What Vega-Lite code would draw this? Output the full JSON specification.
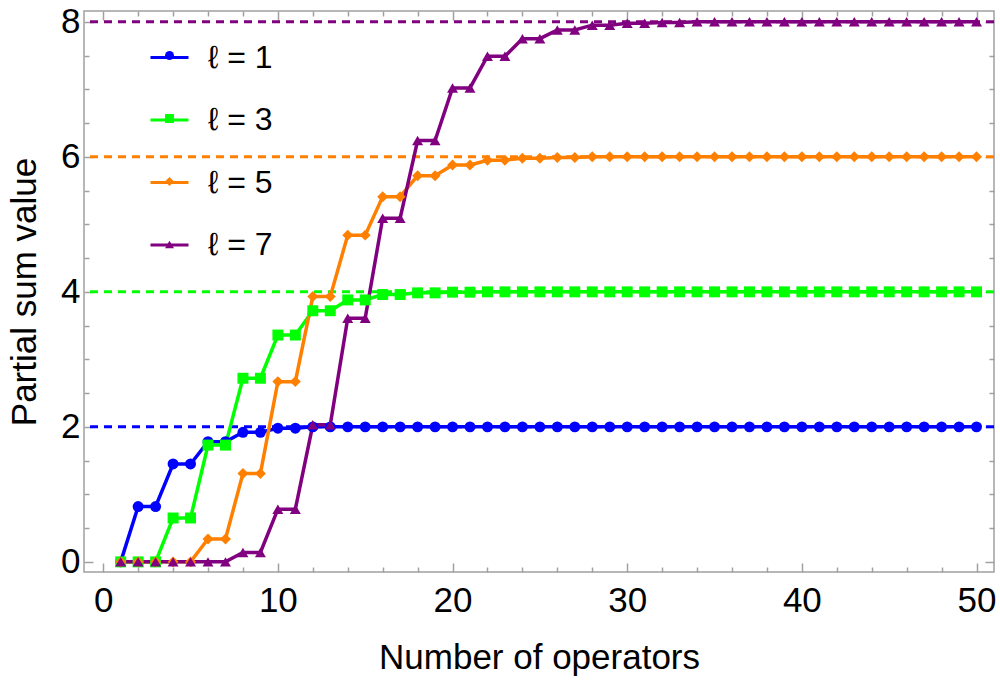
{
  "$schema": "https://vega.github.io/schema/vega-lite/v6.json",
  "width": 910,
  "height": 561,
  "autosize": "none",
  "padding": {"left": 84, "top": 11, "right": 6, "bottom": 112},
  "data": {
    "values": [
      {"operators": 1, "series": "ℓ = 1", "value": 0},
      {"operators": 2, "series": "ℓ = 1", "value": 0.82},
      {"operators": 3, "series": "ℓ = 1", "value": 0.82},
      {"operators": 4, "series": "ℓ = 1", "value": 1.45},
      {"operators": 5, "series": "ℓ = 1", "value": 1.45},
      {"operators": 6, "series": "ℓ = 1", "value": 1.78},
      {"operators": 7, "series": "ℓ = 1", "value": 1.78},
      {"operators": 8, "series": "ℓ = 1", "value": 1.92},
      {"operators": 9, "series": "ℓ = 1", "value": 1.92},
      {"operators": 10, "series": "ℓ = 1", "value": 1.98},
      {"operators": 11, "series": "ℓ = 1", "value": 1.98},
      {"operators": 12, "series": "ℓ = 1", "value": 2},
      {"operators": 13, "series": "ℓ = 1", "value": 2},
      {"operators": 14, "series": "ℓ = 1", "value": 2},
      {"operators": 15, "series": "ℓ = 1", "value": 2},
      {"operators": 16, "series": "ℓ = 1", "value": 2},
      {"operators": 17, "series": "ℓ = 1", "value": 2},
      {"operators": 18, "series": "ℓ = 1", "value": 2},
      {"operators": 19, "series": "ℓ = 1", "value": 2},
      {"operators": 20, "series": "ℓ = 1", "value": 2},
      {"operators": 21, "series": "ℓ = 1", "value": 2},
      {"operators": 22, "series": "ℓ = 1", "value": 2},
      {"operators": 23, "series": "ℓ = 1", "value": 2},
      {"operators": 24, "series": "ℓ = 1", "value": 2},
      {"operators": 25, "series": "ℓ = 1", "value": 2},
      {"operators": 26, "series": "ℓ = 1", "value": 2},
      {"operators": 27, "series": "ℓ = 1", "value": 2},
      {"operators": 28, "series": "ℓ = 1", "value": 2},
      {"operators": 29, "series": "ℓ = 1", "value": 2},
      {"operators": 30, "series": "ℓ = 1", "value": 2},
      {"operators": 31, "series": "ℓ = 1", "value": 2},
      {"operators": 32, "series": "ℓ = 1", "value": 2},
      {"operators": 33, "series": "ℓ = 1", "value": 2},
      {"operators": 34, "series": "ℓ = 1", "value": 2},
      {"operators": 35, "series": "ℓ = 1", "value": 2},
      {"operators": 36, "series": "ℓ = 1", "value": 2},
      {"operators": 37, "series": "ℓ = 1", "value": 2},
      {"operators": 38, "series": "ℓ = 1", "value": 2},
      {"operators": 39, "series": "ℓ = 1", "value": 2},
      {"operators": 40, "series": "ℓ = 1", "value": 2},
      {"operators": 41, "series": "ℓ = 1", "value": 2},
      {"operators": 42, "series": "ℓ = 1", "value": 2},
      {"operators": 43, "series": "ℓ = 1", "value": 2},
      {"operators": 44, "series": "ℓ = 1", "value": 2},
      {"operators": 45, "series": "ℓ = 1", "value": 2},
      {"operators": 46, "series": "ℓ = 1", "value": 2},
      {"operators": 47, "series": "ℓ = 1", "value": 2},
      {"operators": 48, "series": "ℓ = 1", "value": 2},
      {"operators": 49, "series": "ℓ = 1", "value": 2},
      {"operators": 50, "series": "ℓ = 1", "value": 2},
      {"operators": 1, "series": "ℓ = 3", "value": 0},
      {"operators": 2, "series": "ℓ = 3", "value": 0},
      {"operators": 3, "series": "ℓ = 3", "value": 0},
      {"operators": 4, "series": "ℓ = 3", "value": 0.65},
      {"operators": 5, "series": "ℓ = 3", "value": 0.65},
      {"operators": 6, "series": "ℓ = 3", "value": 1.73},
      {"operators": 7, "series": "ℓ = 3", "value": 1.73},
      {"operators": 8, "series": "ℓ = 3", "value": 2.72},
      {"operators": 9, "series": "ℓ = 3", "value": 2.72},
      {"operators": 10, "series": "ℓ = 3", "value": 3.36},
      {"operators": 11, "series": "ℓ = 3", "value": 3.36},
      {"operators": 12, "series": "ℓ = 3", "value": 3.72},
      {"operators": 13, "series": "ℓ = 3", "value": 3.72},
      {"operators": 14, "series": "ℓ = 3", "value": 3.88},
      {"operators": 15, "series": "ℓ = 3", "value": 3.88},
      {"operators": 16, "series": "ℓ = 3", "value": 3.96},
      {"operators": 17, "series": "ℓ = 3", "value": 3.96},
      {"operators": 18, "series": "ℓ = 3", "value": 3.985},
      {"operators": 19, "series": "ℓ = 3", "value": 3.985},
      {"operators": 20, "series": "ℓ = 3", "value": 3.995},
      {"operators": 21, "series": "ℓ = 3", "value": 3.995},
      {"operators": 22, "series": "ℓ = 3", "value": 4},
      {"operators": 23, "series": "ℓ = 3", "value": 4},
      {"operators": 24, "series": "ℓ = 3", "value": 4},
      {"operators": 25, "series": "ℓ = 3", "value": 4},
      {"operators": 26, "series": "ℓ = 3", "value": 4},
      {"operators": 27, "series": "ℓ = 3", "value": 4},
      {"operators": 28, "series": "ℓ = 3", "value": 4},
      {"operators": 29, "series": "ℓ = 3", "value": 4},
      {"operators": 30, "series": "ℓ = 3", "value": 4},
      {"operators": 31, "series": "ℓ = 3", "value": 4},
      {"operators": 32, "series": "ℓ = 3", "value": 4},
      {"operators": 33, "series": "ℓ = 3", "value": 4},
      {"operators": 34, "series": "ℓ = 3", "value": 4},
      {"operators": 35, "series": "ℓ = 3", "value": 4},
      {"operators": 36, "series": "ℓ = 3", "value": 4},
      {"operators": 37, "series": "ℓ = 3", "value": 4},
      {"operators": 38, "series": "ℓ = 3", "value": 4},
      {"operators": 39, "series": "ℓ = 3", "value": 4},
      {"operators": 40, "series": "ℓ = 3", "value": 4},
      {"operators": 41, "series": "ℓ = 3", "value": 4},
      {"operators": 42, "series": "ℓ = 3", "value": 4},
      {"operators": 43, "series": "ℓ = 3", "value": 4},
      {"operators": 44, "series": "ℓ = 3", "value": 4},
      {"operators": 45, "series": "ℓ = 3", "value": 4},
      {"operators": 46, "series": "ℓ = 3", "value": 4},
      {"operators": 47, "series": "ℓ = 3", "value": 4},
      {"operators": 48, "series": "ℓ = 3", "value": 4},
      {"operators": 49, "series": "ℓ = 3", "value": 4},
      {"operators": 50, "series": "ℓ = 3", "value": 4},
      {"operators": 1, "series": "ℓ = 5", "value": 0},
      {"operators": 2, "series": "ℓ = 5", "value": 0},
      {"operators": 3, "series": "ℓ = 5", "value": 0},
      {"operators": 4, "series": "ℓ = 5", "value": 0},
      {"operators": 5, "series": "ℓ = 5", "value": 0},
      {"operators": 6, "series": "ℓ = 5", "value": 0.34},
      {"operators": 7, "series": "ℓ = 5", "value": 0.34},
      {"operators": 8, "series": "ℓ = 5", "value": 1.31},
      {"operators": 9, "series": "ℓ = 5", "value": 1.31},
      {"operators": 10, "series": "ℓ = 5", "value": 2.67},
      {"operators": 11, "series": "ℓ = 5", "value": 2.67},
      {"operators": 12, "series": "ℓ = 5", "value": 3.93},
      {"operators": 13, "series": "ℓ = 5", "value": 3.93},
      {"operators": 14, "series": "ℓ = 5", "value": 4.84},
      {"operators": 15, "series": "ℓ = 5", "value": 4.84},
      {"operators": 16, "series": "ℓ = 5", "value": 5.41},
      {"operators": 17, "series": "ℓ = 5", "value": 5.41},
      {"operators": 18, "series": "ℓ = 5", "value": 5.72},
      {"operators": 19, "series": "ℓ = 5", "value": 5.72},
      {"operators": 20, "series": "ℓ = 5", "value": 5.88},
      {"operators": 21, "series": "ℓ = 5", "value": 5.88},
      {"operators": 22, "series": "ℓ = 5", "value": 5.95},
      {"operators": 23, "series": "ℓ = 5", "value": 5.95},
      {"operators": 24, "series": "ℓ = 5", "value": 5.98},
      {"operators": 25, "series": "ℓ = 5", "value": 5.98},
      {"operators": 26, "series": "ℓ = 5", "value": 5.99},
      {"operators": 27, "series": "ℓ = 5", "value": 5.99},
      {"operators": 28, "series": "ℓ = 5", "value": 6},
      {"operators": 29, "series": "ℓ = 5", "value": 6},
      {"operators": 30, "series": "ℓ = 5", "value": 6},
      {"operators": 31, "series": "ℓ = 5", "value": 6},
      {"operators": 32, "series": "ℓ = 5", "value": 6},
      {"operators": 33, "series": "ℓ = 5", "value": 6},
      {"operators": 34, "series": "ℓ = 5", "value": 6},
      {"operators": 35, "series": "ℓ = 5", "value": 6},
      {"operators": 36, "series": "ℓ = 5", "value": 6},
      {"operators": 37, "series": "ℓ = 5", "value": 6},
      {"operators": 38, "series": "ℓ = 5", "value": 6},
      {"operators": 39, "series": "ℓ = 5", "value": 6},
      {"operators": 40, "series": "ℓ = 5", "value": 6},
      {"operators": 41, "series": "ℓ = 5", "value": 6},
      {"operators": 42, "series": "ℓ = 5", "value": 6},
      {"operators": 43, "series": "ℓ = 5", "value": 6},
      {"operators": 44, "series": "ℓ = 5", "value": 6},
      {"operators": 45, "series": "ℓ = 5", "value": 6},
      {"operators": 46, "series": "ℓ = 5", "value": 6},
      {"operators": 47, "series": "ℓ = 5", "value": 6},
      {"operators": 48, "series": "ℓ = 5", "value": 6},
      {"operators": 49, "series": "ℓ = 5", "value": 6},
      {"operators": 50, "series": "ℓ = 5", "value": 6},
      {"operators": 1, "series": "ℓ = 7", "value": 0},
      {"operators": 2, "series": "ℓ = 7", "value": 0},
      {"operators": 3, "series": "ℓ = 7", "value": 0},
      {"operators": 4, "series": "ℓ = 7", "value": 0},
      {"operators": 5, "series": "ℓ = 7", "value": 0},
      {"operators": 6, "series": "ℓ = 7", "value": 0},
      {"operators": 7, "series": "ℓ = 7", "value": 0},
      {"operators": 8, "series": "ℓ = 7", "value": 0.14},
      {"operators": 9, "series": "ℓ = 7", "value": 0.14},
      {"operators": 10, "series": "ℓ = 7", "value": 0.78},
      {"operators": 11, "series": "ℓ = 7", "value": 0.78},
      {"operators": 12, "series": "ℓ = 7", "value": 2.03},
      {"operators": 13, "series": "ℓ = 7", "value": 2.03},
      {"operators": 14, "series": "ℓ = 7", "value": 3.61},
      {"operators": 15, "series": "ℓ = 7", "value": 3.61},
      {"operators": 16, "series": "ℓ = 7", "value": 5.09},
      {"operators": 17, "series": "ℓ = 7", "value": 5.09},
      {"operators": 18, "series": "ℓ = 7", "value": 6.24},
      {"operators": 19, "series": "ℓ = 7", "value": 6.24},
      {"operators": 20, "series": "ℓ = 7", "value": 7.02},
      {"operators": 21, "series": "ℓ = 7", "value": 7.02},
      {"operators": 22, "series": "ℓ = 7", "value": 7.49},
      {"operators": 23, "series": "ℓ = 7", "value": 7.49},
      {"operators": 24, "series": "ℓ = 7", "value": 7.75},
      {"operators": 25, "series": "ℓ = 7", "value": 7.75},
      {"operators": 26, "series": "ℓ = 7", "value": 7.88},
      {"operators": 27, "series": "ℓ = 7", "value": 7.88},
      {"operators": 28, "series": "ℓ = 7", "value": 7.95},
      {"operators": 29, "series": "ℓ = 7", "value": 7.95},
      {"operators": 30, "series": "ℓ = 7", "value": 7.98},
      {"operators": 31, "series": "ℓ = 7", "value": 7.98},
      {"operators": 32, "series": "ℓ = 7", "value": 7.99},
      {"operators": 33, "series": "ℓ = 7", "value": 7.99},
      {"operators": 34, "series": "ℓ = 7", "value": 8},
      {"operators": 35, "series": "ℓ = 7", "value": 8},
      {"operators": 36, "series": "ℓ = 7", "value": 8},
      {"operators": 37, "series": "ℓ = 7", "value": 8},
      {"operators": 38, "series": "ℓ = 7", "value": 8},
      {"operators": 39, "series": "ℓ = 7", "value": 8},
      {"operators": 40, "series": "ℓ = 7", "value": 8},
      {"operators": 41, "series": "ℓ = 7", "value": 8},
      {"operators": 42, "series": "ℓ = 7", "value": 8},
      {"operators": 43, "series": "ℓ = 7", "value": 8},
      {"operators": 44, "series": "ℓ = 7", "value": 8},
      {"operators": 45, "series": "ℓ = 7", "value": 8},
      {"operators": 46, "series": "ℓ = 7", "value": 8},
      {"operators": 47, "series": "ℓ = 7", "value": 8},
      {"operators": 48, "series": "ℓ = 7", "value": 8},
      {"operators": 49, "series": "ℓ = 7", "value": 8},
      {"operators": 50, "series": "ℓ = 7", "value": 8}
    ]
  },
  "layer": [
    {
      "data": {
        "values": [
          {"series": "ℓ = 1", "value": 2},
          {"series": "ℓ = 3", "value": 4},
          {"series": "ℓ = 5", "value": 6},
          {"series": "ℓ = 7", "value": 8}
        ]
      },
      "mark": {"type": "rule", "strokeDash": [8, 6], "strokeWidth": 3},
      "encoding": {
        "y": {"field": "value", "type": "quantitative", "axis": null,
              "scale": {"domain": [-0.15, 8.16], "nice": false, "zero": false}},
        "stroke": {"field": "series", "type": "nominal",
                   "scale": {"domain": ["ℓ = 1", "ℓ = 3", "ℓ = 5", "ℓ = 7"], "range": ["#0000ff", "#00ff00", "#ff8000", "#800080"]}}
      }
    },
    {
      "mark": {"type": "line", "strokeWidth": 3.5},
      "encoding": {
        "x": {"field": "operators", "type": "quantitative",
              "scale": {"domain": [-1.1, 51], "nice": false, "zero": false},
              "axis": {"orient": "bottom", "title": "Number of operators",
                       "values": [0, 2, 4, 6, 8, 10, 12, 14, 16, 18, 20, 22, 24, 26, 28, 30, 32, 34, 36, 38, 40, 42, 44, 46, 48, 50],
                       "labelExpr": "datum.value % 10 === 0 ? '' + datum.value : ''",
                       "tickSize": {"condition": {"test": "datum.value % 10 === 0", "value": -9}, "value": -5},
                       "labelPadding": 20, "titlePadding": 18}},
        "y": {"field": "value", "type": "quantitative",
              "scale": {"domain": [-0.15, 8.16], "nice": false, "zero": false},
              "axis": {"orient": "left", "title": "Partial sum value",
                       "values": [0, 0.5, 1, 1.5, 2, 2.5, 3, 3.5, 4, 4.5, 5, 5.5, 6, 6.5, 7, 7.5, 8],
                       "labelExpr": "datum.value % 2 === 0 ? '' + datum.value : ''",
                       "tickSize": {"condition": {"test": "datum.value % 2 === 0", "value": -9}, "value": -5},
                       "labelPadding": 13, "titlePadding": 18}},
        "stroke": {"field": "series", "type": "nominal",
                   "scale": {"domain": ["ℓ = 1", "ℓ = 3", "ℓ = 5", "ℓ = 7"], "range": ["#0000ff", "#00ff00", "#ff8000", "#800080"]},
                   "legend": {"orient": "none", "legendX": 65, "legendY": 26, "title": null,
                              "symbolType": "stroke", "symbolSize": 1444, "symbolStrokeWidth": 3, "symbolDash": [1, 0],
                              "labelFontSize": 32, "labelOffset": 18, "rowPadding": 25.5}}
      }
    },
    {
      "mark": {"type": "point", "filled": true, "size": 120, "opacity": 1, "strokeWidth": 0},
      "encoding": {
        "x": {"field": "operators", "type": "quantitative",
              "scale": {"domain": [-1.1, 51], "nice": false, "zero": false},
              "axis": {"orient": "top", "title": null, "labels": false,
                       "values": [0, 2, 4, 6, 8, 10, 12, 14, 16, 18, 20, 22, 24, 26, 28, 30, 32, 34, 36, 38, 40, 42, 44, 46, 48, 50],
                       "tickSize": {"condition": {"test": "datum.value % 10 === 0", "value": -9}, "value": -5}}},
        "y": {"field": "value", "type": "quantitative",
              "scale": {"domain": [-0.15, 8.16], "nice": false, "zero": false},
              "axis": {"orient": "right", "title": null, "labels": false,
                       "values": [0, 0.5, 1, 1.5, 2, 2.5, 3, 3.5, 4, 4.5, 5, 5.5, 6, 6.5, 7, 7.5, 8],
                       "tickSize": {"condition": {"test": "datum.value % 2 === 0", "value": -9}, "value": -5}}},
        "fill": {"field": "series", "type": "nominal", "legend": null,
                 "scale": {"domain": ["ℓ = 1", "ℓ = 3", "ℓ = 5", "ℓ = 7"], "range": ["#0000ff", "#00ff00", "#ff8000", "#800080"]}},
        "shape": {"field": "series", "type": "nominal",
                  "scale": {"domain": ["ℓ = 1", "ℓ = 3", "ℓ = 5", "ℓ = 7"], "range": ["circle", "square", "diamond", "triangle-up"]},
                  "legend": {"orient": "top-left", "offset": 40, "title": null,
                             "symbolSize": 80, "symbolStrokeWidth": 0, "symbolOffset": 41,
                             "labelExpr": "''", "labelFontSize": 1, "labelColor": "transparent", "rowPadding": 54}}
      }
    }
  ],
  "resolve": {"axis": {"x": "independent", "y": "independent"}},
  "config": {
    "font": "Liberation Sans",
    "view": {"stroke": "#a0a0a0", "strokeWidth": 1.5},
    "axis": {"domain": false, "grid": false, "tickColor": "#a0a0a0", "tickWidth": 1.5,
             "labelFontSize": 35, "titleFontSize": 35, "labelColor": "black", "titleColor": "black",
             "titleFontWeight": "normal", "labelFlush": false, "labelOverlap": false},
    "legend": {"padding": 0, "labelColor": "black", "labelFont": "Liberation Sans"}
  }
}
